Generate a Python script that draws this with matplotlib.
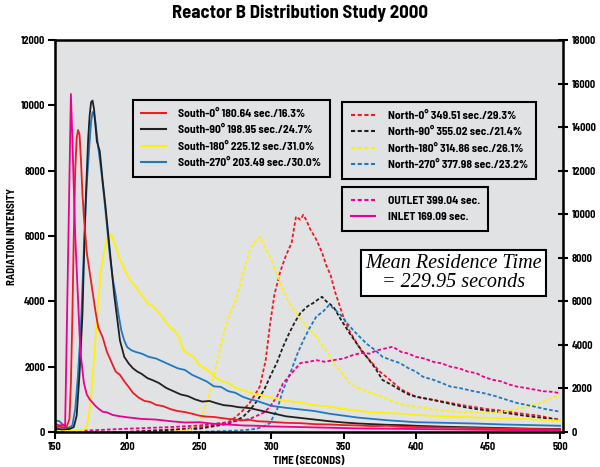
import matplotlib
matplotlib.use("Agg")
import matplotlib.pyplot as plt
from matplotlib.lines import Line2D

plt.rcParams['font.family'] = ['Barlow Semi Condensed', 'DejaVu Sans']
plt.rcParams['font.weight'] = 'bold'
plt.rcParams['axes.labelweight'] = 'bold'

# --- data (time in s, radiation intensity) ---
t_s0 = [150, 153, 156, 158, 160, 161, 162, 163, 164, 165, 166, 167, 168, 169, 170, 172, 174, 176, 178, 180,
        183, 186, 189, 192, 195, 198, 201, 204, 208, 212, 216, 220, 225, 230, 235, 240, 245, 250, 255, 260,
        265, 270, 275, 280, 285, 290, 300, 310, 320, 330, 340, 350, 360, 370, 380, 390, 400, 410, 420, 430,
        440, 450, 460, 470, 480, 490, 500]
v_s0 = [150, 160, 140, 150, 400, 1500, 3500, 6000, 8000, 9000, 9250, 9100, 8300, 7300, 6600, 5500, 4900, 4300, 3700, 3200,
        2900, 2450, 2150, 1850, 1750, 1550, 1380, 1200, 1050, 950, 920, 830, 790, 700, 640, 610, 560, 500, 470, 460,
        430, 400, 380, 360, 370, 330, 310, 280, 270, 240, 230, 210, 200, 180, 190, 160, 150, 140, 130, 125,
        120, 110, 100, 95, 90, 85, 80]

t_s90 = [150, 155, 160, 163, 165, 167, 169, 171, 172, 173, 174, 175, 176, 177, 178, 179, 181, 183, 185, 187,
         189, 191, 193, 195, 198, 201, 204, 207, 210, 214, 218, 222, 227, 232, 237, 242, 247, 252, 257, 262,
         267, 272, 277, 285, 290, 300, 310, 320, 330, 340, 350, 360, 370, 380, 390, 400, 420, 440, 460, 480, 500]
v_s90 = [100, 80, 90, 150, 500, 1800, 3600, 6800, 7900, 9000, 9700, 10100, 10150, 9900, 9400, 8900, 8600, 7700, 6900, 6000,
         5100, 4200, 3500, 2800, 2300, 2100, 1950, 1850, 1780, 1650, 1580, 1500, 1350, 1250, 1150, 1100, 1000, 930, 950, 880,
         820, 800, 760, 730, 680, 580, 480, 430, 380, 330, 290, 260, 240, 220, 210, 190, 160, 140, 120, 100, 90]

t_s270 = [150, 153, 156, 159, 162, 164, 166, 168, 170, 172, 174, 175, 176, 177, 178, 180, 182, 184, 186, 188,
          190, 192, 194, 196, 198, 200, 203, 206, 210, 215, 220, 225, 230, 235, 240, 245, 250, 255, 260, 265,
          270, 275, 280, 285, 290, 300, 310, 320, 330, 340, 350, 360, 370, 380, 390, 400, 420, 440, 460, 480, 500]
v_s270 = [350, 330, 200, 120, 200, 700, 1800, 3300, 5600, 7600, 8900, 9500, 9800, 9750, 9500, 8700, 8000, 7200, 6300, 5400,
          4700, 4200, 3600, 3100, 2800, 2600, 2500, 2450, 2400, 2300, 2250, 2150, 2050, 1950, 1900, 1750, 1650, 1550, 1400, 1380,
          1250, 1200, 1080, 1000, 950, 800, 740, 690, 640, 560, 500, 440, 400, 360, 330, 300, 280, 260, 230, 210, 190]

t_s180 = [150, 155, 160, 165, 168, 170, 172, 174, 176, 178, 180, 182, 184, 186, 188, 189, 190, 192, 194, 196,
          198, 200, 203, 206, 209, 212, 215, 218, 221, 224, 227, 230, 233, 236, 239, 242, 246, 250, 254, 258,
          262, 266, 270, 275, 280, 285, 290, 300, 310, 320, 330, 340, 350, 360, 370, 380, 390, 400, 410, 420,
          430, 440, 450, 460, 470, 480, 490, 500]
v_s180 = [80, 60, 40, 40, 50, 60, 150, 700, 1600, 2800, 4000, 5000, 5500, 5900, 6000, 6050, 5900, 5700, 5400, 5200,
          5000, 4800, 4600, 4450, 4250, 4100, 3900, 3850, 3700, 3550, 3350, 3200, 3100, 2900, 2500, 2400, 2300, 2050, 1950, 1800,
          1650, 1550, 1500, 1350, 1280, 1200, 1150, 1050, 950, 900, 820, 780, 700, 650, 600, 580, 560, 520, 500, 480,
          460, 450, 430, 420, 400, 390, 370, 350]

t_inlet = [150, 153, 156, 157, 161, 162, 163, 164, 165, 166, 167, 168, 169, 170, 172, 174, 176, 178, 180, 183,
           186, 190, 195, 200, 210, 220, 230, 240, 250, 260, 270, 280, 290, 300, 320, 340, 360, 380, 400, 420,
           440, 460, 480, 500]
v_inlet = [250, 200, 220, 150, 10350, 9000, 7500, 6000, 5000, 4000, 3000, 2300, 1900, 1500, 1150, 1000, 900, 800, 720, 620,
           600, 520, 480, 450, 400, 380, 330, 290, 300, 250, 230, 200, 190, 170, 150, 130, 110, 100, 90, 80,
           70, 60, 50, 50]

t_n0 = [150, 200, 240, 260, 270, 275, 280, 285, 288, 292, 296, 299, 302, 306, 310, 314, 317, 320, 322, 324,
        327, 331, 335, 338, 341, 344, 347, 350, 354, 358, 362, 366, 370, 375, 382, 390, 400, 410, 424, 435,
        450, 460, 470, 485, 500]
v_n0 = [0, 0, 100, 200, 300, 450, 650, 900, 1100, 1400, 2200, 3300, 4200, 4900, 5400, 5800, 6600, 6500, 6650, 6500,
        6200, 5900, 5500, 5100, 4800, 4300, 3900, 3500, 3100, 2800, 2500, 2300, 2100, 1850, 1600, 1300, 1080, 1000, 890, 800,
        700, 650, 580, 500, 370]

t_n90 = [150, 200, 250, 270, 280, 285, 290, 295, 299, 304, 308, 312, 316, 320, 325, 329, 332, 335, 338, 343,
         348, 354, 360, 366, 372, 377, 383, 389, 395, 400, 412, 425, 435, 447, 460, 475, 490, 500]
v_n90 = [0, 0, 100, 250, 450, 670, 950, 1300, 1690, 2150, 2610, 3000, 3350, 3640, 3850, 3950, 4050, 4140, 4000, 3830,
         3450, 3030, 2650, 2300, 1950, 1590, 1450, 1290, 1150, 1080, 980, 850, 750, 670, 600, 500, 420, 370]

t_n180 = [150, 230, 243, 250, 256, 262, 268, 272, 276, 280, 285, 288, 292, 296, 299, 303, 308, 313, 319, 325,
          331, 337, 343, 349, 354, 360, 366, 372, 377, 383, 390, 400, 410, 420, 430, 440, 450, 460, 470, 480,
          490, 500]
v_n180 = [0, 0, 60, 300, 1000, 2100, 3200, 3700, 4140, 4800, 5570, 5800, 5980, 5600, 5370, 4900, 4350, 3900, 3530, 3200,
          2920, 2550, 2110, 1800, 1490, 1350, 1250, 1150, 1080, 950, 850, 775, 700, 650, 620, 600, 580, 620, 700, 800,
          950, 1150]

t_n270 = [150, 250, 280, 290, 295, 299, 304, 308, 313, 318, 322, 326, 331, 336, 340, 344, 349, 353, 357, 361,
          366, 372, 377, 383, 389, 395, 400, 405, 412, 418, 424, 430, 440, 447, 455, 462, 470, 480, 490, 500]
v_n270 = [0, 0, 50, 100, 180, 275, 700, 1290, 1800, 2400, 2800, 3150, 3530, 3700, 3890, 3750, 3530, 3300, 3100, 2920,
          2700, 2500, 2300, 2200, 2110, 1950, 1850, 1690, 1600, 1500, 1390, 1350, 1250, 1190, 1100, 1000, 890, 800, 700, 620]

t_outlet = [150, 200, 230, 250, 260, 270, 280, 285, 290, 295, 299, 304, 308, 314, 320, 326, 331, 337, 343, 350,
            356, 362, 368, 373, 378, 384, 390, 395, 400, 406, 412, 418, 424, 430, 436, 442, 447, 453, 459, 465,
            470, 476, 482, 488, 494, 500]
v_outlet = [0, 100, 150, 200, 250, 300, 360, 400, 500, 600, 775, 1100, 1490, 1800, 2110, 2150, 2200, 2150, 2200, 2250,
            2350, 2420, 2400, 2500, 2550, 2610, 2450, 2400, 2300, 2250, 2150, 2100, 2000, 1950, 1850, 1800, 1690, 1600, 1550, 1450,
            1390, 1350, 1300, 1250, 1230, 1190]

south_labels = ["South-0° 180.64 sec./16.3%", "South-90° 198.95 sec./24.7%",
                "South-180° 225.12 sec./31.0%", "South-270° 203.49 sec./30.0%"]
north_labels = ["North-0° 349.51 sec./29.3%", "North-90° 355.02 sec./21.4%",
                "North-180° 314.86 sec./26.1%", "North-270° 377.98 sec./23.2%"]
io_labels = ["OUTLET 399.04 sec.", "INLET 169.09 sec."]

RED, BLACK, YELLOW, BLUE, MAGENTA = '#ed1c24', '#231f20', '#fff200', '#1f78c1', '#ec008c'
DOT = (0, (2.0, 1.2))

fig = plt.figure(figsize=(6.0, 4.67), dpi=100)
ax = fig.add_axes([0.0917, 0.075, 0.8466, 0.839])
ax.set_facecolor('#e1e2e4')

lw = 1.3
ax.plot(t_n0, v_n0, color=RED, lw=lw, ls=DOT)
ax.plot(t_n90, v_n90, color=BLACK, lw=lw, ls=DOT)
ax.plot(t_n180, v_n180, color=YELLOW, lw=lw, ls=DOT)
ax.plot(t_n270, v_n270, color=BLUE, lw=lw, ls=DOT)
ax.plot(t_outlet, v_outlet, color=MAGENTA, lw=lw, ls=DOT)
ax.plot(t_s180, v_s180, color=YELLOW, lw=lw)
ax.plot(t_s270, v_s270, color=BLUE, lw=lw)
ax.plot(t_s90, v_s90, color=BLACK, lw=lw)
ax.plot(t_s0, v_s0, color=RED, lw=lw)
ax.plot(t_inlet, v_inlet, color=MAGENTA, lw=lw)

ax.set_xlim(150, 502)
ax.set_ylim(0, 12000)
ax.set_xticks(range(150, 501, 50))
ax.set_yticks(range(0, 12001, 2000))
for s in ax.spines.values():
    s.set_linewidth(1.8)
ax.tick_params(axis='both', direction='out', length=5, width=1.5, labelsize=7.5, pad=2)

ax2 = ax.twinx()
ax2.set_ylim(0, 18000)
ax2.set_yticks(range(0, 18001, 2000))
ax2.tick_params(axis='y', direction='inout', length=7, width=1.5, labelsize=7.5, pad=3)

ax.set_xlabel("TIME (SECONDS)", fontsize=7.8, fontweight='bold')
ax.xaxis.set_label_coords(0.5, -0.062)
ax.set_ylabel("RADIATION INTENSITY", fontsize=7.8, fontweight='bold')
ax.yaxis.set_label_coords(-0.074, 0.5)
fig.suptitle("Reactor B Distribution Study 2000", fontsize=13.5, fontweight='bold', y=0.99)

def make_legend(handles, labels, x, y):
    leg = ax2.legend(handles, labels, loc='upper left', bbox_to_anchor=(x, y),
                     prop={'size': 8.3, 'weight': 'bold'}, handlelength=2.1, handletextpad=1.1,
                     labelspacing=0.55, borderpad=0.75, borderaxespad=0, frameon=True, fancybox=False,
                     facecolor='#e1e2e4', edgecolor='black', framealpha=1, shadow=False)
    leg.get_frame().set_linewidth(1.5)
    return leg

h_south = [Line2D([], [], color=c, lw=1.5) for c in (RED, BLACK, YELLOW, BLUE)]
h_north = [Line2D([], [], color=c, lw=1.5, ls=DOT) for c in (RED, BLACK, YELLOW, BLUE)]
h_io = [Line2D([], [], color=MAGENTA, lw=1.5, ls=DOT), Line2D([], [], color=MAGENTA, lw=1.5)]

l1 = make_legend(h_south, south_labels, 0.153, 0.847)
ax2.add_artist(l1)
l2 = make_legend(h_north, north_labels, 0.565, 0.842)
ax2.add_artist(l2)
l3 = make_legend(h_io, io_labels, 0.565, 0.625)

ax2.text(0.785, 0.406, "Mean Residence Time\n= 229.95 seconds", transform=ax2.transAxes,
         ha='center', va='center', fontsize=14.5, family='Liberation Serif', style='italic',
         fontweight='normal', linespacing=0.95,
         bbox=dict(boxstyle='square,pad=0.2', facecolor='white', edgecolor='black', linewidth=1.5))

fig.savefig("out.png", dpi=100)
